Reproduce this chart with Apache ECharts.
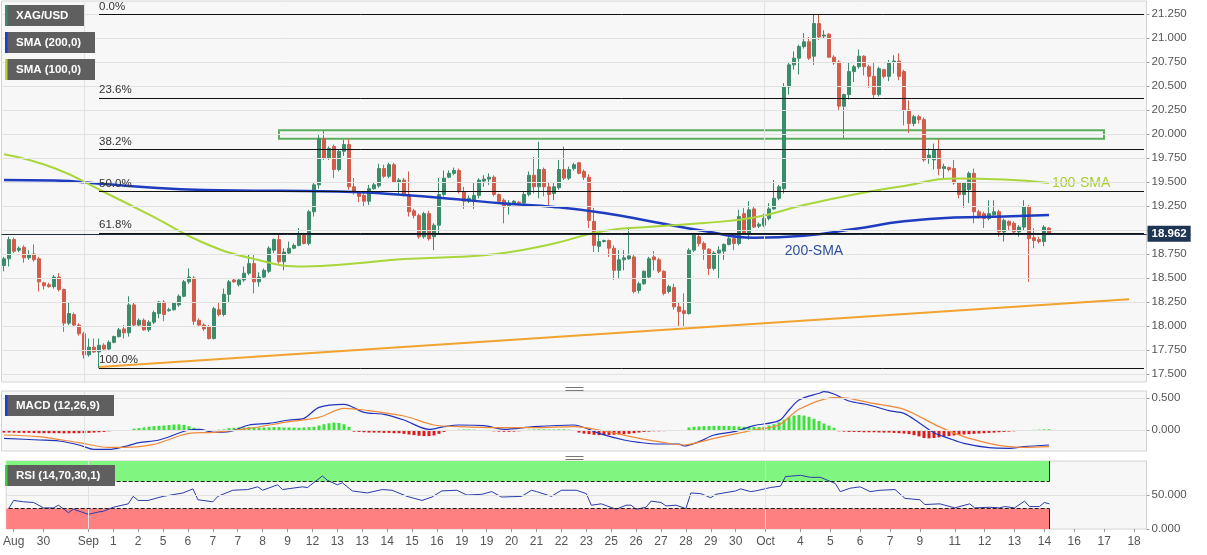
<!DOCTYPE html>
<html>
<head>
<meta charset="utf-8">
<title>XAG/USD</title>
<script src="https://cdn.jsdelivr.net/npm/echarts@6/dist/echarts.min.js"></script>
<style>
  html, body { margin: 0; padding: 0; background: #fff; }
  #chart { width: 1207px; height: 555px; }
</style>
</head>
<body>
<div id="chart"></div>
<script>
// 4h candles (open, close, low, high)
const opens = [
  18.63,18.70,18.90,18.79,18.82,18.71,18.75,18.70,18.45,18.43,
  18.41,18.51,18.38,18.03,18.12,18.01,17.92,17.70,17.78,17.73,
  17.80,17.76,17.83,17.89,17.97,17.93,18.22,18.01,18.06,17.96,
  18.04,18.13,18.25,18.16,18.17,18.22,18.31,18.46,18.50,18.06,
  18.01,17.99,17.87,18.17,18.12,18.33,18.48,18.43,18.48,18.55,
  18.65,18.46,18.51,18.57,18.79,18.90,18.67,18.76,18.81,18.84,
  18.95,18.86,19.19,19.47,19.95,19.75,19.87,19.63,19.82,19.89,
  19.45,19.39,19.36,19.30,19.43,19.46,19.64,19.56,19.68,19.50,
  19.52,19.37,19.20,19.15,18.93,19.17,18.93,19.05,19.37,19.55,
  19.59,19.62,19.40,19.30,19.30,19.36,19.51,19.53,19.55,19.37,
  19.31,19.25,19.27,19.29,19.28,19.37,19.57,19.45,19.63,19.45,
  19.38,19.44,19.63,19.54,19.64,19.70,19.61,19.55,19.09,18.83,
  18.88,18.89,18.81,18.58,18.69,18.70,18.72,18.37,18.44,18.51,
  18.72,18.69,18.57,18.36,18.40,18.20,18.16,18.13,18.79,18.93,
  18.86,18.80,18.60,18.76,18.78,18.85,18.91,18.86,19.17,18.97,
  19.22,19.04,19.05,19.12,19.22,19.33,19.43,20.49,20.72,20.79,
  20.91,20.96,20.81,21.15,21.02,21.04,20.80,20.75,20.29,20.41,
  20.65,20.70,20.81,20.70,20.60,20.41,20.67,20.60,20.75,20.76,
  20.65,20.25,20.11,20.18,20.15,19.75,19.73,19.83,19.64,19.65,
  19.64,19.49,19.37,19.42,19.59,19.19,19.17,19.12,19.16,19.19,
  18.98,19.09,19.07,18.98,19.03,19.24,18.92,18.90,18.88,19.02
];
const closes = [
  18.70,18.90,18.78,18.81,18.71,18.74,18.69,18.46,18.42,18.41,
  18.51,18.38,18.03,18.13,18.01,17.92,17.70,17.78,17.73,17.80,
  17.76,17.83,17.89,17.96,17.93,18.22,18.01,18.06,17.96,18.04,
  18.14,18.25,18.12,18.17,18.24,18.31,18.46,18.51,18.05,18.01,
  17.97,17.87,18.18,18.12,18.33,18.46,18.46,18.48,18.55,18.65,
  18.46,18.51,18.58,18.81,18.90,18.67,18.77,18.81,18.84,18.95,
  18.86,19.19,19.47,19.95,19.75,19.85,19.63,19.82,19.89,19.45,
  19.40,19.35,19.30,19.43,19.47,19.64,19.56,19.68,19.50,19.52,
  19.37,19.19,19.15,18.93,19.17,18.91,19.05,19.37,19.54,19.59,
  19.62,19.40,19.30,19.33,19.36,19.52,19.53,19.55,19.37,19.30,
  19.24,19.28,19.30,19.28,19.37,19.57,19.45,19.63,19.45,19.37,
  19.45,19.63,19.54,19.63,19.68,19.59,19.55,19.10,18.84,18.88,
  18.89,18.81,18.58,18.69,18.71,18.73,18.36,18.44,18.57,18.70,
  18.69,18.57,18.34,18.41,18.20,18.15,18.13,18.79,18.95,18.86,
  18.80,18.60,18.76,18.79,18.85,18.91,18.86,19.14,18.97,19.21,
  19.03,19.06,19.12,19.22,19.33,19.45,20.49,20.72,20.79,20.91,
  20.96,20.79,21.15,21.01,21.03,20.80,20.74,20.29,20.41,20.65,
  20.70,20.81,20.70,20.60,20.41,20.68,20.60,20.74,20.76,20.60,
  20.25,20.11,20.18,20.15,19.73,19.78,19.83,19.64,19.66,19.63,
  19.49,19.37,19.49,19.59,19.19,19.14,19.12,19.17,19.19,18.98,
  19.10,19.05,18.98,19.03,19.24,18.91,18.89,18.88,19.03,18.962
];
const lows = [
  18.57,18.62,18.76,18.77,18.66,18.69,18.67,18.36,18.38,18.40,
  18.39,18.36,17.94,18.01,17.99,17.90,17.66,17.68,17.72,17.56,
  17.74,17.75,17.82,17.88,17.87,17.89,17.99,17.99,17.95,17.94,
  18.02,18.08,18.05,18.15,18.16,18.20,18.30,18.44,18.01,17.99,
  17.95,17.86,17.86,18.10,18.10,18.24,18.45,18.41,18.46,18.53,
  18.34,18.41,18.50,18.55,18.76,18.65,18.58,18.74,18.80,18.83,
  18.85,18.84,19.14,19.43,19.73,19.73,19.54,19.61,19.77,19.42,
  19.37,19.29,19.24,19.26,19.42,19.44,19.54,19.54,19.49,19.37,
  19.35,19.14,19.12,18.91,18.91,18.89,18.79,18.95,19.35,19.54,
  19.57,19.38,19.22,19.28,19.22,19.33,19.45,19.47,19.35,19.28,
  19.07,19.16,19.26,19.27,19.26,19.35,19.38,19.33,19.35,19.26,
  19.31,19.42,19.52,19.52,19.62,19.58,19.52,19.02,18.77,18.77,
  18.87,18.72,18.48,18.50,18.58,18.69,18.34,18.34,18.43,18.50,
  18.58,18.55,18.32,18.34,18.17,17.99,17.99,18.12,18.77,18.83,
  18.69,18.53,18.58,18.50,18.69,18.84,18.79,18.84,18.95,18.90,
  19.02,19.02,19.03,19.10,19.21,19.31,19.38,20.41,20.67,20.62,
  20.89,20.77,20.72,20.98,21.00,20.79,20.72,20.25,19.96,20.36,
  20.54,20.68,20.61,20.48,20.37,20.39,20.58,20.55,20.63,20.56,
  20.09,20.01,20.08,20.11,19.71,19.69,19.63,19.57,19.54,19.61,
  19.47,19.33,19.23,19.28,19.07,19.12,19.02,19.10,19.14,18.93,
  18.88,19.00,18.95,18.93,19.00,18.46,18.81,18.86,18.83,18.95
];
const highs = [
  18.72,18.93,18.92,18.83,18.84,18.79,18.85,18.72,18.46,18.45,
  18.53,18.55,18.39,18.25,18.14,18.03,17.94,17.87,17.87,17.87,
  17.82,17.85,17.90,17.98,18.01,18.31,18.25,18.08,18.08,18.06,
  18.16,18.26,18.27,18.19,18.25,18.33,18.48,18.60,18.52,18.08,
  18.03,18.01,18.20,18.25,18.39,18.48,18.49,18.50,18.62,18.74,
  18.74,18.56,18.60,18.83,18.91,18.95,18.81,18.88,18.86,19.02,
  18.97,19.21,19.50,19.99,20.04,19.87,19.89,19.84,19.94,19.95,
  19.54,19.40,19.38,19.47,19.50,19.69,19.68,19.70,19.70,19.54,
  19.54,19.61,19.22,19.17,19.19,19.20,19.07,19.54,19.62,19.62,
  19.65,19.64,19.45,19.36,19.50,19.54,19.57,19.59,19.57,19.38,
  19.33,19.31,19.31,19.30,19.40,19.61,19.76,19.92,19.65,19.50,
  19.49,19.73,19.87,19.66,19.70,19.71,19.63,19.58,19.23,18.95,
  18.90,18.90,18.84,18.79,18.79,19.03,18.74,18.46,18.58,18.72,
  18.78,18.71,18.58,18.43,18.44,18.25,18.34,18.81,18.97,18.95,
  18.88,18.81,18.78,18.83,18.86,18.93,18.93,19.21,19.23,19.30,
  19.24,19.08,19.17,19.28,19.52,19.47,20.53,20.74,20.86,20.93,
  21.05,21.01,21.24,21.24,21.08,21.05,20.82,20.77,20.42,20.75,
  20.72,20.88,20.82,20.72,20.74,20.70,20.68,20.77,20.82,20.84,
  20.67,20.35,20.20,20.20,20.17,19.85,19.90,19.95,19.69,19.66,
  19.73,19.50,19.50,19.61,19.64,19.21,19.19,19.31,19.31,19.21,
  19.12,19.10,19.09,19.05,19.31,19.26,19.02,18.93,19.05,19.03
];
const lastPrice = 18.962;

// moving averages, read every 10 bars
const smaIdx = [0,10,20,30,40,50,60,70,80,90,100,110,120,130,140,150,160,170,180,190,200,209];
const sma200 = [19.521,19.516,19.479,19.44,19.417,19.41,19.406,19.396,19.365,19.323,19.276,19.24,19.177,19.083,18.99,18.92,18.94,19.01,19.09,19.13,19.14,19.156];
const sma100 = [19.79,19.646,19.396,19.135,18.865,18.698,18.62,18.65,18.698,18.719,18.76,18.86,18.99,19.036,19.073,19.13,19.26,19.37,19.458,19.536,19.526,19.49];

// MACD panel
const macdIdx = [0,7,11,15,18,21,24,27,31,37,39,42,45,49,53,57,60,63,68,72,76,80,85,88,91,96,100,106,114,117,119,124,127,131,135,136,139,142,146,150,155,157,159,163,164,166,169,173,177,180,183,186,189,192,197,201,204,209];
const macdVal = [-0.13,-0.156,-0.172,-0.234,-0.302,-0.302,-0.26,-0.198,-0.156,0,0.01,-0.036,-0.026,0.078,0.104,0.156,0.182,0.354,0.401,0.276,0.245,0.156,0.01,0.052,0.078,0.068,0.01,0.052,0.078,0.01,-0.052,-0.156,-0.193,-0.219,-0.219,-0.25,-0.182,-0.078,-0.026,0.068,0.146,0.3125,0.469,0.573,0.599,0.563,0.453,0.391,0.302,0.26,0.115,-0.042,-0.13,-0.208,-0.276,-0.286,-0.26,-0.234];
const sigIdx = [0,7,15,21,24,30,37,42,49,57,63,68,72,80,86,91,99,106,114,119,127,131,136,142,150,155,159,166,169,173,180,187,192,197,201,204,209];
const sigVal = [-0.078,-0.104,-0.198,-0.271,-0.271,-0.224,-0.052,-0.036,0.026,0.13,0.198,0.339,0.3125,0.219,0.078,0.052,0.036,0.036,0.052,0,-0.13,-0.182,-0.234,-0.13,0,0.078,0.323,0.505,0.495,0.427,0.323,0.052,-0.104,-0.208,-0.26,-0.271,-0.26];
const hist = [
  -0.04,-0.04,-0.042,-0.045,-0.045,-0.045,-0.048,-0.05,-0.05,-0.05,-0.05,-0.05,-0.052,-0.052,-0.05,-0.05,-0.048,-0.045,-0.04,-0.035,-0.03,-0.02,
  -0.012,-0.01,-0.008,-0.005,
  0.02,0.03,0.04,0.05,0.06,0.065,0.07,0.078,0.085,0.088,0.08,0.06,0.035,
  0.01,0.005,-0.005,-0.005,0.005,0.01,
  0.03,0.035,0.04,0.04,0.045,0.045,0.04,0.04,0.042,0.045,0.045,0.04,0.04,0.038,0.035,0.04,0.045,0.05,
  0.07,0.09,0.105,0.115,0.11,0.09,0.05,
  -0.025,-0.03,-0.035,-0.04,-0.04,-0.04,-0.045,-0.045,-0.05,-0.05,-0.06,-0.07,-0.08,-0.09,-0.095,-0.095,-0.085,-0.06,
  -0.03,-0.015,-0.008,0.005,0.008,0.008,0.005,-0.005,-0.01,-0.015,-0.02,
  -0.025,-0.028,-0.028,-0.025,-0.02,
  -0.008,0.004,0.008,0.01,0.01,0.008,0.008,0.01,0.01,0.006,-0.01,
  -0.04,-0.055,-0.065,-0.075,-0.08,-0.08,-0.078,-0.075,-0.07,-0.065,-0.06,-0.05,-0.04,-0.03,-0.025,
  -0.02,-0.02,-0.018,-0.015,-0.015,-0.012,-0.01,
  0.04,0.05,0.055,0.06,0.062,0.065,0.065,0.065,0.062,0.06,0.055,0.05,0.048,0.045,0.045,
  0.05,0.07,0.09,0.12,0.16,0.2,0.225,0.235,0.225,0.205,0.175,0.14,0.1,0.07,0.035,
  -0.02,-0.025,-0.03,-0.03,-0.032,-0.035,-0.035,-0.035,-0.038,-0.04,-0.04,-0.045,-0.05,-0.055,
  -0.065,-0.08,-0.1,-0.125,-0.13,-0.125,-0.115,-0.105,-0.095,-0.085,-0.075,-0.07,-0.065,
  -0.06,-0.055,-0.05,-0.045,-0.04,-0.035,-0.03,-0.025,-0.02,-0.015,
  -0.01,-0.005,0.003,0.006,0.01,0.012
];

// RSI panel
const rsiIdx = [0,1,3,5,7,9,10,12,13,16,18,19,21,24,25,26,28,31,35,37,38,41,42,45,48,50,51,54,55,59,60,63,64,66,67,69,72,75,77,80,83,85,87,90,92,95,97,99,103,105,106,109,111,114,116,117,119,122,124,125,126,128,129,131,132,134,136,137,139,141,142,146,147,149,150,153,155,156,159,161,163,164,166,167,169,171,173,175,178,180,183,184,187,188,190,193,194,197,199,200,202,204,205,207,208,209];
const rsiVal = [30,42,40,39,31,31,35,24,29,21.6,25,26,32,37,48,42,42,48,53,59,43,40,48,57,58,62,57,65,58,62,61,78,71.6,65,68,56,53,58,57,48,42,47,56,57,50,51,55,47,48,57,55,48,57,57,52,35,37,29,35,35,29,32,41,39,34,35,30,53,52,46,51,56,59,55,56,61,63,77,79,76,76,73,67,55,60,62,55,57,58,45,43,36,37,35,31,37,31,32,31,33,31,41,33,33,39,37];

// axis labels
const N = 229;
const tickIdx = [1,7,16,21,26,31,36,41,46,51,56,61,66,71,76,81,86,91,96,101,106,111,116,121,126,131,136,141,146,152,159,165,171,177,183,190,196,202,208,214,220,226];
const tickText = ['Aug','30','Sep','1','2','5','6','7','7','8','9','12','13','13','14','15','16','19','19','20','21','22','23','25','26','27','28','29','30','Oct','4','5','6','7','9','11','12','13','14','16','17','18'];
const monthIdx = [16, 152];
const priceTicks = [17.5,17.75,18,18.25,18.5,18.75,19,19.25,19.5,19.75,20,20.25,20.5,20.75,21,21.25];

// drawing levels
const fibHigh = 21.245, fibLow = 17.56;
const fibRatios = [0, 0.236, 0.382, 0.5, 0.618, 1];
const fibNames = ['0.0%', '23.6%', '38.2%', '50.0%', '61.8%', '100.0%'];
const zoneBox = [[55, 20.04], [220, 19.95]];
const trendLine = [[19, 17.573], [225, 18.28]];

const FONT = 'Liberation Sans, Arial, sans-serif';
const cats = Array.from({ length: N }, (_, i) => String(i));
const pairs = (idx, vals) => idx.map((k, i) => [k, vals[i]]);

const chart = echarts.init(document.getElementById('chart'));

const gridBox = { left: 1.5, width: 1145, show: true, backgroundColor: '#f7f7f7', borderColor: '#d4d4d4', borderWidth: 1 };

const makeX = (gi, withLabels) => ({
  type: 'category',
  gridIndex: gi,
  data: cats,
  boundaryGap: true,
  axisLine: { show: false },
  axisTick: withLabels
    ? { show: true, alignWithLabel: true, length: 3, interval: (i) => tickIdx.includes(i), lineStyle: { color: '#999' } }
    : { show: false },
  axisLabel: withLabels
    ? {
        show: true,
        interval: (i) => tickIdx.includes(i),
        formatter: (v, i) => tickText[tickIdx.indexOf(i)] || '',
        color: '#555',
        fontSize: 12,
        margin: 7,
      }
    : { show: false },
  splitLine: { show: false },
});

const gridLines = (gi, levels) => ({
  type: 'line',
  xAxisIndex: gi,
  yAxisIndex: gi,
  data: [],
  silent: true,
  z: 1,
  markLine: {
    silent: true,
    symbol: ['none', 'none'],
    label: { show: false },
    lineStyle: { color: '#e2e2e2', type: 'solid', width: 1 },
    data: levels.map((v) => ({ yAxis: v })).concat(monthIdx.map((k) => ({ xAxis: k }))),
  },
});

const legendBox = (x, y, w, stripe, text) => ({
  type: 'group',
  left: x,
  top: y,
  z: 100,
  children: [
    { type: 'rect', z: 100, shape: { x: 0, y: 0, width: w, height: 21 }, style: { fill: '#5f5f5f' } },
    { type: 'rect', z: 101, shape: { x: 0, y: 0, width: 2.5, height: 21 }, style: { fill: stripe } },
    {
      type: 'text',
      z: 102,
      x: 11,
      y: 10.5,
      style: { text: text, fill: '#fff', font: 'bold 11.5px ' + FONT, verticalAlign: 'middle' },
    },
  ],
});

const handle = (y) => ({
  type: 'group',
  left: 563,
  top: y,
  z: 100,
  children: [
    { type: 'line', shape: { x1: 0, y1: 0, x2: 18, y2: 0 }, style: { stroke: '#777', lineWidth: 1 } },
    { type: 'line', shape: { x1: 0, y1: 3, x2: 18, y2: 3 }, style: { stroke: '#777', lineWidth: 1 } },
  ],
});

const fibData = fibRatios.map((r, i) => {
  const lvl = +(fibHigh - r * (fibHigh - fibLow)).toFixed(4);
  return [{ name: fibNames[i], coord: [19, lvl] }, { coord: [228, lvl] }];
});

const option = {
  animation: false,
  backgroundColor: '#ffffff',
  textStyle: { fontFamily: FONT },
  grid: [
    Object.assign({ top: 1, height: 381 }, gridBox),
    Object.assign({ top: 391, height: 60 }, gridBox),
    Object.assign({ top: 461, height: 68 }, gridBox),
  ],
  xAxis: [makeX(0, false), makeX(1, false), makeX(2, true)],
  yAxis: [
    {
      type: 'value',
      gridIndex: 0,
      position: 'right',
      min: 17.417,
      max: 21.385,
      axisLine: { show: false },
      axisTick: { show: true, customValues: priceTicks, length: 3, lineStyle: { color: '#999' } },
      axisLabel: {
        customValues: priceTicks.filter((v) => v !== 19),
        formatter: (v) => v.toFixed(3),
        color: '#555',
        fontSize: 11.5,
        margin: 5,
      },
      splitLine: { show: false },
    },
    {
      type: 'value',
      gridIndex: 1,
      position: 'right',
      min: -0.328,
      max: 0.609,
      axisLine: { show: false },
      axisTick: { show: true, customValues: [0, 0.5], length: 3, lineStyle: { color: '#999' } },
      axisLabel: { customValues: [0, 0.5], formatter: (v) => v.toFixed(3), color: '#555', fontSize: 11.5, margin: 5 },
      splitLine: { show: false },
    },
    {
      type: 'value',
      gridIndex: 2,
      position: 'right',
      min: 0,
      max: 100,
      axisLine: { show: false },
      axisTick: { show: true, customValues: [0, 50], length: 3, lineStyle: { color: '#999' } },
      axisLabel: { customValues: [0, 50], formatter: (v) => v.toFixed(3), color: '#555', fontSize: 11.5, margin: 5 },
      splitLine: { show: false },
    },
  ],
  graphic: {
    elements: [
      legendBox(5, 5, 79, '#3b8c6b', 'XAG/USD'),
      legendBox(5, 32, 90, '#1f3fbf', 'SMA (200,0)'),
      legendBox(5, 59, 90, '#b6d436', 'SMA (100,0)'),
      legendBox(5, 395, 109, '#1f3fbf', 'MACD (12,26,9)'),
      legendBox(5, 465, 110, '#3bd13b', 'RSI (14,70,30,1)'),
      handle(385),
      handle(454),
    ],
  },
  series: [
    gridLines(0, priceTicks),
    gridLines(1, [0, 0.5]),
    gridLines(2, [50]),
    {
      name: 'XAG/USD',
      type: 'candlestick',
      xAxisIndex: 0,
      yAxisIndex: 0,
      z: 3,
      barWidth: 3,
      data: opens.map((o, i) => [o, closes[i], lows[i], highs[i]]),
      itemStyle: {
        color: '#3b8c6b',
        color0: '#d35d4b',
        borderColor: '#3b8c6b',
        borderColor0: '#d35d4b',
        borderWidth: 1,
      },
      markArea: {
        silent: true,
        data: [[
          { coord: zoneBox[0], itemStyle: { color: 'rgba(0,0,0,0)', borderColor: '#5cae5c', borderWidth: 2 } },
          { coord: zoneBox[1] },
        ]],
      },
      markLine: {
        silent: true,
        symbol: ['none', 'none'],
        lineStyle: { color: '#111', type: 'solid', width: 1 },
        label: {
          show: true,
          position: 'insideStartTop',
          formatter: '{b}',
          color: '#333',
          fontSize: 11.5,
          distance: [0, 2],
        },
        data: fibData.concat([
          [
            { coord: trendLine[0], lineStyle: { color: '#f2a22e', width: 2 }, label: { show: false } },
            { coord: trendLine[1] },
          ],
          {
            yAxis: lastPrice,
            lineStyle: { color: '#1d2c40', width: 1 },
            label: {
              show: true,
              position: 'end',
              formatter: lastPrice.toFixed(3),
              color: '#fff',
              fontWeight: 'bold',
              fontSize: 11.5,
              backgroundColor: '#1f3554',
              padding: [2, 4],
              distance: 1,
            },
          },
        ]),
      },
    },
    {
      name: 'SMA 200',
      type: 'line',
      xAxisIndex: 0,
      yAxisIndex: 0,
      z: 4,
      smooth: true,
      symbol: 'none',
      data: pairs(smaIdx, sma200),
      lineStyle: { color: '#1d3cc0', width: 2.5 },
      markPoint: {
        silent: true,
        symbol: 'rect',
        symbolSize: 1,
        itemStyle: { color: 'rgba(0,0,0,0)' },
        label: { show: true, position: 'inside', formatter: '200-SMA', color: '#2f4e9e', fontSize: 14 },
        data: [{ coord: [162, 18.78] }],
      },
    },
    {
      name: 'SMA 100',
      type: 'line',
      xAxisIndex: 0,
      yAxisIndex: 0,
      z: 4,
      smooth: true,
      symbol: 'none',
      data: pairs(smaIdx, sma100),
      lineStyle: { color: '#a9d63a', width: 2 },
      endLabel: { show: true, formatter: '100-SMA', color: '#a6cf33', fontSize: 14, distance: 3 },
    },
    {
      name: 'Histogram',
      type: 'bar',
      xAxisIndex: 1,
      yAxisIndex: 1,
      z: 2,
      barWidth: 3,
      data: hist.map((v) => ({ value: v, itemStyle: { color: v >= 0 ? '#3be03b' : '#d81c1c' } })),
    },
    {
      name: 'MACD',
      type: 'line',
      xAxisIndex: 1,
      yAxisIndex: 1,
      z: 3,
      symbol: 'none',
      smooth: 0.3,
      data: pairs(macdIdx, macdVal),
      lineStyle: { color: '#2233bb', width: 1.2 },
    },
    {
      name: 'Signal',
      type: 'line',
      xAxisIndex: 1,
      yAxisIndex: 1,
      z: 3,
      symbol: 'none',
      smooth: 0.3,
      data: pairs(sigIdx, sigVal),
      lineStyle: { color: '#f08a3a', width: 1.2 },
    },
    {
      name: 'RSI',
      type: 'line',
      xAxisIndex: 2,
      yAxisIndex: 2,
      z: 3,
      symbol: 'none',
      data: pairs(rsiIdx, rsiVal),
      lineStyle: { color: '#2a3caa', width: 1 },
      markArea: {
        silent: true,
        data: [
          [{ yAxis: 70, itemStyle: { color: '#80f580' } }, { xAxis: 209, yAxis: 100 }],
          [{ yAxis: 0, itemStyle: { color: '#ff8080' } }, { xAxis: 209, yAxis: 30 }],
        ],
      },
      markLine: {
        silent: true,
        symbol: ['none', 'none'],
        label: { show: false },
        lineStyle: { color: '#222', type: 'dashed', width: 1 },
        data: [
          [{ coord: [0, 70] }, { coord: [209, 70] }],
          [{ coord: [0, 30] }, { coord: [209, 30] }],
          [{ coord: [209, 70], lineStyle: { type: 'solid' } }, { coord: [209, 100] }],
          [{ coord: [209, 0], lineStyle: { type: 'solid' } }, { coord: [209, 30] }],
        ],
      },
    },
  ],
};

chart.setOption(option);
</script>
</body>
</html>
